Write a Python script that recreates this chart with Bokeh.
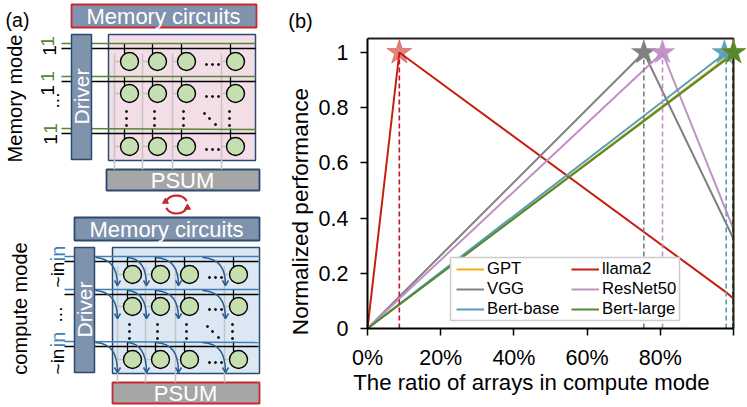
import numpy as np
from bokeh.embed import file_html
from bokeh.resources import INLINE
from bokeh.plotting import figure
from bokeh.models import Legend, LegendItem, FixedTicker, Label, LinearAxis, Range1d

# ---------- data of panel (b) ----------
names = ["GPT", "llama2", "VGG", "ResNet50", "Bert-base", "Bert-large"]
colors = ["#f5a81c", "#c81e10", "#808080", "#c08fc4", "#559fb8", "#55892f"]
dash_colors = ["#f5a81c", "#c81030", "#808080", "#c08fc4", "#559fb8", "#3f6b22"]
star_alpha = [1.0, 0.55, 1.0, 0.95, 0.95, 1.0]
ratio_gpt = [0, 1.0]
perf_gpt = [0, 1.0]
ratio_llama = [0, 0.087, 0.981, 1.0]
perf_llama = [0, 1.0, 0.13, 0.108]
ratio_vgg = [0, 0.755, 1.0]
perf_vgg = [0, 1.0, 0.325]
ratio_resnet = [0, 0.806, 1.0]
perf_resnet = [0, 1.0, 0.36]
ratio_base = [0, 0.98, 1.0]
perf_base = [0, 1.0, 0.98]
ratio_large = [0, 1.0]
perf_large = [0, 0.995]
star_x = [1.0, 0.087, 0.755, 0.806, 0.975, 1.0]
dash_x = [1.0, 0.087, 0.755, 0.806, 0.98, 0.998]
x_ticks = [0, 0.2, 0.4, 0.6, 0.8, 1.0]
x_labels = ["0%", "20%", "40%", "60%", "80%", ""]
y_ticks = [0, 0.2, 0.4, 0.6, 0.8, 1.0]
y_labels = ["0", "0.2", "0.4", "0.6", "0.8", "1"]

FONT = "Liberation Sans"
NAVY = "#2b4a73"
SLATE = "#7f93ad"
RED = "#c8282d"

# One canvas: the default ranges are page pixels (schematic and notes), the
# extra ranges "ratio"/"perf" carry the chart of panel (b).
s = figure(width=747, height=407, x_range=(0, 747), y_range=(407, 0),
           output_backend="svg", toolbar_location=None, min_border=0,
           x_axis_type=None, y_axis_type=None, outline_line_color=None)
s.grid.visible = False
s.extra_x_ranges["ratio"] = Range1d(start=-367 / 366, end=380 / 366)
s.extra_y_ranges["perf"] = Range1d(start=-79 / 276, end=1 + 52 / 276)


def box(x0, x1, y0, y1, fill, line, lw=1.5):
    s.quad(left=[x0], right=[x1], top=[y0], bottom=[y1], fill_color=fill, line_color=line, line_width=lw)


def txt(x, y, t, size=20, color="black", angle=0.0):
    s.add_layout(Label(x=x, y=y, text=t, text_font=FONT, text_font_size=f"{size}px", text_color=color,
                       text_align="center", text_baseline="middle", angle=angle))


def array(dx, dy, fill, wl_color, top_red, bottom_red):
    # dx, dy: offsets; the memory block is the same in both modes
    box(71 + dx, 256 + dx, 4 + dy, 27 + dy, SLATE, RED if top_red else NAVY, 1.8)
    txt(163 + dx, 16 + dy, "Memory circuits", 22, "white")
    box(108 + dx + (1 if dy else 0), 255 + dx + (1 if dy else 0), 34 + dy, 160 + dy, fill, NAVY)
    box(106 + dx if not bottom_red else 112, 259 + dx if not bottom_red else 259, 169 + dy, 190 + dy,
        "#a6a6a6", RED if bottom_red else NAVY, 1.8)
    cols = [129 + dx, 157 + dx, 186 + dx, 235 + dx]
    gray = [114 + dx, 142 + dx, 172 + dx, 221 + dx]
    rows = [61 + dy, 93 + dy, 146 + dy]
    for g in gray:
        s.line([g, g], [53 + dy, 169 + dy], line_color="#c4c4c4", line_width=1.5)
    for r in rows:
        for c, g in zip(cols, gray):
            s.line([g, c], [r, r], line_color="#c4c4c4", line_width=1.5)
    for k, r in enumerate([43 + dy, 76 + dy, 128 + dy]):
        for c in cols:
            s.line([c - 5, c - 5, c + 4, c + 4], [r, r + 10, r + 10, r + 12], line_color="black", line_width=1.3)
        s.line([61 + dx, 255 + dx], [r + 5, r + 5], line_color="black", line_width=1.6)
        s.line([61 + dx, 255 + dx], [r, r + (1 if k == 2 else 0)], line_color=wl_color, line_width=1.6)
    xs, ys = np.meshgrid(cols, rows)
    s.scatter(xs.ravel(), ys.ravel(), size=18, fill_color="#c6dfb0", line_color="black", line_width=1.4)
    # ellipses between cells
    for r in rows:
        s.scatter([206 + dx, 212 + dx, 218 + dx], [r + 3] * 3, size=2, color="black")
    for c in cols[:3] + [cols[3] - 3]:
        s.scatter([c - 3] * 3, [111 + dy, 118 + dy, 125 + dy], size=2, color="black")
    s.scatter([204 + dx, 209 + dx, 215 + dx], [113 + dy, 118 + dy, 124 + dy], size=2, color="black")
    box(71 + dx, 91 + dx, 34 + dy, 159 + dy, SLATE, NAVY)
    txt(81 + dx, 96 + dy, "Driver", 21, "white", np.pi / 2)
    txt(182 + dx, 180 + dy, "PSUM", 22, "white")


array(0, 0, "#f3dde7", "#55892f", True, False)
array(3, 213, "#dce7f4", "#3f7fb5", False, True)

# mode labels (a)
txt(17, 19, "(a)", 19.5)
txt(14, 98, "Memory mode", 20, angle=np.pi / 2)
txt(19, 308, "compute mode", 20, angle=np.pi / 2)
for y, x, c in [(41, 47, "#55892f"), (50, 49, "black"), (76, 47, "#55892f"), (90, 47, "black"),
                (128, 50, "#55892f"), (139, 50, "black")]:
    txt(x, y, "1", 19, c, np.pi / 2)
txt(52, 100, "...", 19, "black", np.pi / 2)
txt(55, 314, "...", 19, "black", np.pi / 2)
for y in (253, 339):
    txt(57, y, "in", 20, "#3f7fb5", np.pi / 2)
for y in (274, 361):
    txt(57, y, "~in", 19, "black", np.pi / 2)

# curved arrows in compute mode
ARROW = "#2b5f8f"
for r, end in [(256, 285), (289, 318), (341, 372)]:
    for x0, x1 in [(95, 117), (127, 146), (155, 178), (202, 225)]:
        s.bezier(x0=[x0], y0=[r + 1], x1=[x1], y1=[end], cx0=[x1 - 6], cy0=[r + 2], cx1=[x1], cy1=[r + 12],
                 line_color=ARROW, line_width=1.5)
        s.line([x1 - 3, x1, x1 + 3], [end - 5, end, end - 5], line_color=ARROW, line_width=1.5)

# red exchange arrows
th = np.linspace(0.3, 2.75, 20)
for off in (0.0, np.pi):
    s.line(176 + 11 * np.cos(th + off), 204 + 9 * np.sin(th + off), line_color=RED, line_width=2.2)
s.scatter([165, 187], [201, 207], marker="triangle", size=6, color=RED)

# ---------- panel (b): chart ----------
xax = LinearAxis(x_range_name="ratio", fixed_location=328, ticker=FixedTicker(ticks=x_ticks),
                 major_label_overrides=dict(zip(x_ticks, x_labels)), bounds=(0, 1))
yax = LinearAxis(y_range_name="perf", fixed_location=367, ticker=FixedTicker(ticks=y_ticks),
                 major_label_overrides=dict(zip(y_ticks, y_labels)), bounds=(0, 1.0507))
s.add_layout(xax, "below")
s.add_layout(yax, "left")
for ax in (xax, yax):
    ax.minor_tick_line_color = None
    ax.major_tick_in = 0
    ax.major_tick_out = 7
    ax.major_tick_line_color = "black"
    ax.major_tick_line_width = 1.5
    ax.axis_line_color = "black"
    ax.axis_line_width = 2
    ax.major_label_text_font = FONT
    ax.major_label_text_font_size = "21.5px"
    ax.major_label_text_color = "black"
xax.major_label_standoff = 10
yax.major_label_standoff = 12
yax.major_label_orientation = "horizontal"

chart = dict(x_range_name="ratio", y_range_name="perf")
series = [(ratio_gpt, perf_gpt), (ratio_llama, perf_llama), (ratio_vgg, perf_vgg),
          (ratio_resnet, perf_resnet), (ratio_base, perf_base), (ratio_large, perf_large)]
rs = []
for (xv, yv), c in zip(series, colors):
    rs.append(s.line(xv, yv, line_color=c, line_width=2, **chart))
for x, c in zip(dash_x, dash_colors):
    s.line([x, x], [0, 1], line_color=c, line_width=1.6, line_dash="5 3", **chart)
s.line([0, 1, 1], [1.0507, 1.0507, 0], line_color="#222222", line_width=2, **chart)
for i in [1, 2, 3, 4, 0, 5]:
    s.scatter([star_x[i]], [1.0], marker="star", size=26, fill_color=colors[i], line_color=colors[i],
              fill_alpha=star_alpha[i], line_alpha=0.4, **chart)

# legend frame, with the entries laid over it
box(450, 679, 257, 320, "white", "#cccccc", 1.5)
order = [0, 2, 4, 1, 3, 5]
legend = Legend(items=[LegendItem(label=names[i], renderers=[rs[i]]) for i in order],
                location=(456, 88), ncols=2, orientation="vertical",
                label_text_font=FONT, label_text_font_size="16.7px", label_text_color="black",
                glyph_width=28, glyph_height=18, spacing=0, margin=0, padding=0,
                border_line_color=None, background_fill_alpha=0.0,
                label_standoff=3, label_height=20, label_width=84)
s.add_layout(legend, "center")

txt(300, 20, "(b)", 20)
txt(531, 382, "The ratio of arrays in compute mode", 22.2)
txt(300, 211, "Normalized performance", 22.6, angle=np.pi / 2)

open("out.html", "w").write(file_html(s, INLINE))
